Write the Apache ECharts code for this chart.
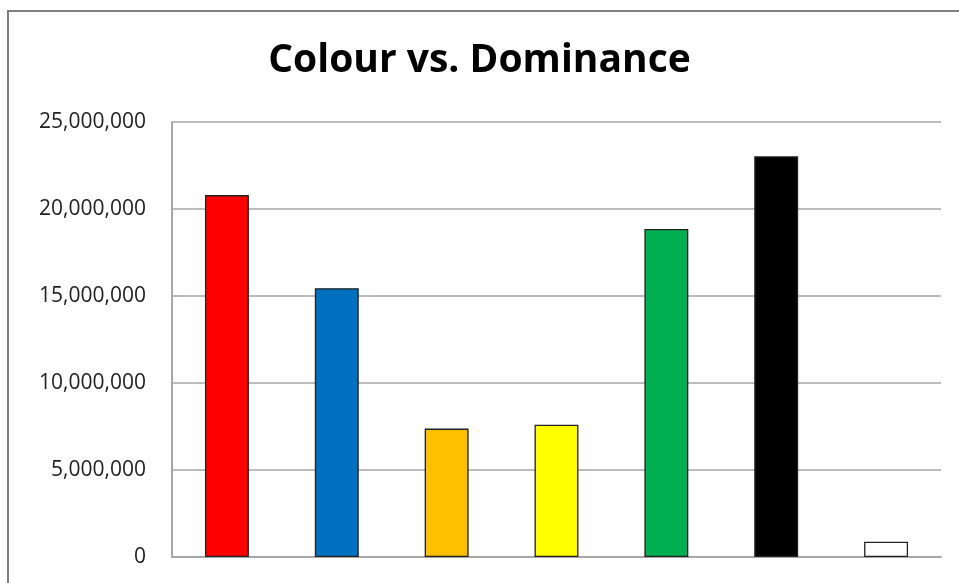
<!DOCTYPE html>
<html><head><meta charset="utf-8">
<script src="https://cdn.jsdelivr.net/npm/echarts@6/dist/echarts.min.js"></script>
<style>html,body{margin:0;padding:0;background:#fff}#c{width:959px;height:583px}</style>
</head><body><div id="c"></div>
<script>
const categories = ['Red', 'Blue', 'Orange', 'Yellow', 'Green', 'Black', 'White'];
const values = [20800000, 15450000, 7380000, 7600000, 18850000, 23030000, 880000];
const barColors = ['#FF0000', '#0070C0', '#FFC000', '#FFFF00', '#00B050', '#000000', '#FFFFFF'];
const yTicks = [0, 5000000, 10000000, 15000000, 20000000, 25000000];

const chart = echarts.init(document.getElementById('c'));
chart.setOption({
  animation: false,
  backgroundColor: '#fff',
  title: {
    text: 'Colour vs. Dominance',
    left: 'center', top: 41, padding: [0, 0, 0, 18],
    textStyle: { fontFamily: 'Open Sans', fontWeight: 'bold', fontSize: 39, color: '#000' }
  },
  grid: { left: 172, right: 18, top: 122, bottom: 26, containLabel: false },
  xAxis: {
    type: 'category', data: categories,
    axisLine: { lineStyle: { color: '#A6A6A6', width: 2 } },
    axisTick: { show: false },
    axisLabel: { show: false }
  },
  yAxis: {
    type: 'value', min: yTicks[0], max: yTicks[yTicks.length - 1], interval: 5000000,
    axisLine: { show: true, lineStyle: { color: '#A6A6A6', width: 2 } },
    axisTick: { show: false },
    splitLine: { lineStyle: { color: '#A6A6A6', width: 1.5 } },
    axisLabel: {
      margin: 26, fontSize: 21, fontFamily: 'Open Sans', color: '#222',
      formatter: v => v.toLocaleString('en-US')
    }
  },
  series: [{
    type: 'bar', barWidth: '40%',
    data: values.map((v, i) => ({ value: v, itemStyle: { color: barColors[i] } })),
    itemStyle: { borderColor: '#222', borderWidth: 1.3 }
  }],
  graphic: [{
    type: 'rect', shape: { x: 8, y: 11, width: 2000, height: 2000 },
    style: { fill: 'none', stroke: '#808080', lineWidth: 2 }, z: 100
  }]
});
</script></body></html>
